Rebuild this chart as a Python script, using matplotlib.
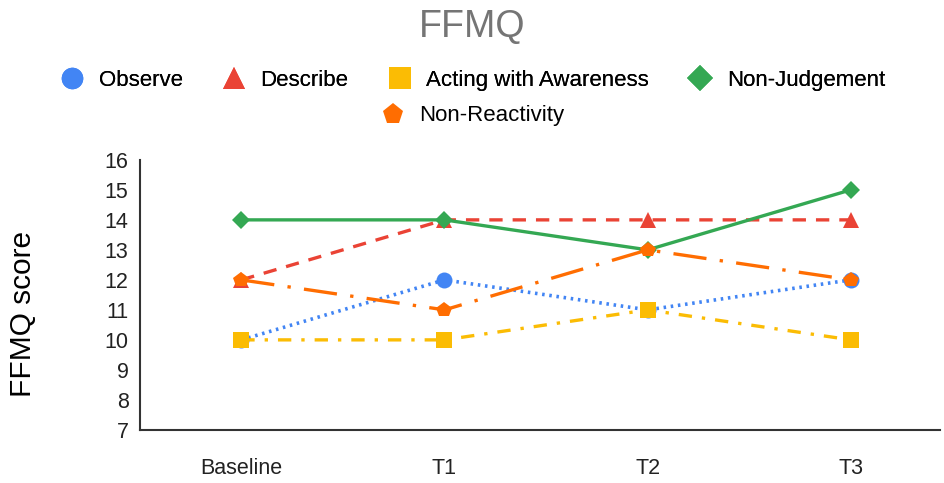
import matplotlib
matplotlib.use("Agg")
import matplotlib.pyplot as plt
from matplotlib.lines import Line2D

plt.rcParams['font.family'] = ['Liberation Sans', 'DejaVu Sans']

# dados
momentos = ['Baseline', 'T1', 'T2', 'T3']
observe = [10, 12, 11, 12]
describe = [12, 14, 14, 14]
acting = [10, 10, 11, 10]
non_judgement = [14, 14, 13, 15]
non_reactivity = [12, 11, 13, 12]

series = [
    ('Observe', observe, '#4285F4', 'o', (0, (0.7, 1.3))),
    ('Describe', describe, '#EA4335', '^', (0, (4, 3))),
    ('Acting with Awareness', acting, '#FBBC04', 's', (0, (4, 3, 1, 3))),
    ('Non-Judgement', non_judgement, '#34A853', 'D', '-'),
    ('Non-Reactivity', non_reactivity, '#FF6D01', 'p', (0, (10, 4, 1, 4))),
]

fig = plt.figure(figsize=(9.44, 4.83), dpi=100)
ax = fig.add_axes([0.148, 0.110, 0.848, 0.559])

x = list(range(len(momentos)))
handles = []
for nome, valores, cor, marcador, estilo in series:
    ms = 11.5 if marcador != 'D' else 9.5
    lw = 2.6 if nome == 'Observe' else 2.4
    ax.plot(x, valores, color=cor, linestyle=estilo, linewidth=lw,
            marker=marcador, markersize=ms, markeredgewidth=0,
            dash_capstyle='butt', solid_capstyle='butt')
    handles.append(Line2D([], [], color=cor, linestyle='none', marker=marcador,
                          markersize=ms * 1.35, markeredgewidth=0, label=nome))

ax.set_xlim(-0.5, 3.44)
ax.set_ylim(7, 16)
ax.set_yticks(range(7, 17))
ax.set_xticks(x)
ax.set_xticklabels(momentos)
ax.tick_params(axis='both', length=0, labelsize=15.5, colors='#222222')
ax.tick_params(axis='x', pad=20)
ax.tick_params(axis='y', pad=8)
for lado in ['top', 'right']:
    ax.spines[lado].set_visible(False)
for lado in ['left', 'bottom']:
    ax.spines[lado].set_color('#333333')
    ax.spines[lado].set_linewidth(1.5)

ax.set_ylabel('FFMQ score', fontsize=21.5)
ax.yaxis.set_label_coords(-0.128, 0.43)

fig.text(0.5, 0.944, 'FFMQ', ha='center', va='center', fontsize=27, color='#757575')

leg1 = fig.legend(handles=handles[:4], loc='center', bbox_to_anchor=(0.5, 0.834),
                  ncol=4, frameon=False, fontsize=16, handlelength=1.2,
                  handletextpad=0.6, columnspacing=1.7)
fig.add_artist(leg1)
fig.legend(handles=handles[4:], loc='center', bbox_to_anchor=(0.5, 0.76),
           frameon=False, fontsize=16, handlelength=1.2, handletextpad=0.6)

fig.savefig('out.png', dpi=100)
